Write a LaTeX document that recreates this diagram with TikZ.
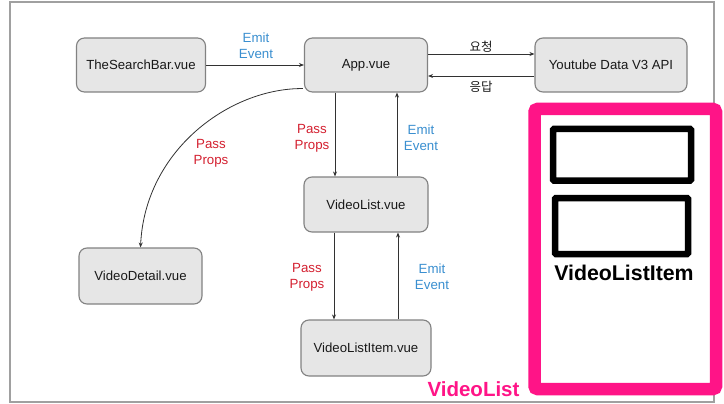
\documentclass[tikz,border=0pt]{standalone}
\usepackage{fontspec}
\setmainfont{Liberation Sans}
\newfontfamily\krfont{Noto Sans CJK KR}
\usetikzlibrary{arrows.meta,positioning}
\definecolor{boxfill}{RGB}{230,230,230}
\definecolor{boxline}{RGB}{130,130,130}
\definecolor{arrowc}{RGB}{50,50,50}
\definecolor{emitblue}{RGB}{58,143,208}
\definecolor{propred}{RGB}{212,32,48}
\definecolor{hotpink}{RGB}{255,20,135}
\definecolor{framegray}{RGB}{160,160,160}
\tikzset{
  comp/.style={draw=boxline, fill=boxfill, line width=1.1pt, rounded corners=8pt,
    font=\fontsize{13.2}{15}\selectfont, text=black!90, inner sep=0pt},
  flow/.style={draw=arrowc, line width=0.8pt, -{Stealth[length=5pt,width=4pt]}},
  emitlbl/.style={text=emitblue, font=\fontsize{13.3}{16}\selectfont, align=center, inner sep=0pt},
  proplbl/.style={text=propred, font=\fontsize{13.3}{16}\selectfont, align=center, inner sep=0pt},
  krlbl/.style={text=black!90, font=\krfont\fontsize{12.5}{14}\selectfont, inner sep=0pt},
}
\begin{document}
\begin{tikzpicture}[x=1pt, y=-1pt]
\useasboundingbox (0,0) rectangle (724,404);
\fill[white] (0,0) rectangle (724,404);
% slide frame
\draw[framegray, line width=1.3pt] (10,2) rectangle (714,402);

% components
\node[comp, minimum width=129pt, minimum height=54pt] (search) at (141,65) {TheSearchBar.vue};
\node[comp, minimum width=123pt, minimum height=54pt] (app) at (366,65) {App.vue};
\node[comp, minimum width=152pt, minimum height=54pt] (yt) at (611,65) {Youtube Data V3 API};
\node[comp, minimum width=124pt, minimum height=55pt] (vlist) at (366,204.5) {VideoList.vue};
\node[comp, minimum width=123pt, minimum height=56pt] (vdetail) at (140.5,276) {VideoDetail.vue};
\node[comp, minimum width=130pt, minimum height=56pt] (vitem) at (366,348) {VideoListItem.vue};

% connectors
\draw[flow] (search.east) -- (app.west);
\draw[flow] ([yshift=11pt]app.east) -- ([yshift=11pt]yt.west);
\draw[flow] ([yshift=-11pt]yt.west) -- ([yshift=-11pt]app.east);
\draw[flow] ([xshift=-31pt]app.south) -- ([xshift=-31pt]vlist.north);
\draw[flow] ([xshift=31pt]vlist.north) -- ([xshift=31pt]app.south);
\draw[flow] ([xshift=-32pt]vlist.south) -- ([xshift=-32pt]vitem.north);
\draw[flow] ([xshift=32pt]vitem.north) -- ([xshift=32pt]vlist.south);
\draw[flow] ([shift={(-1pt,4pt)}]app.south west) .. controls (230,88) and (145,150) .. (vdetail.north);

% labels
\node[emitlbl] (l1) at (256,46) {Emit\\Event};
\node[krlbl] (l2) at (481,47) {요청};
\node[krlbl] (l3) at (481,87) {응답};
\node[proplbl] (l4) at (211,153) {Pass\\Props};
\node[proplbl] (l5) at (312,138) {Pass\\Props};
\node[emitlbl] (l6) at (421,138) {Emit\\Event};
\node[proplbl] (l7) at (307,277) {Pass\\Props};
\node[emitlbl] (l8) at (432,277) {Emit\\Event};

% pink VideoList mockup
\draw[hotpink, line width=12.5pt, rounded corners=3pt] (534.5,109) rectangle (716,389);
\draw[black, line width=6.5pt, rounded corners=1pt] (553,129) rectangle (691,180.5);
\draw[black, line width=6.5pt, rounded corners=1pt] (555,198) rectangle (688,254);
\node[font=\bfseries\fontsize{21.3}{24}\selectfont, text=black, inner sep=0pt] (itemlbl) at (624,273) {VideoListItem};
\node[font=\bfseries\fontsize{20.5}{24}\selectfont, text=hotpink, inner sep=0pt] (listlbl) at (473.5,389) {VideoList};
\end{tikzpicture}
\end{document}
